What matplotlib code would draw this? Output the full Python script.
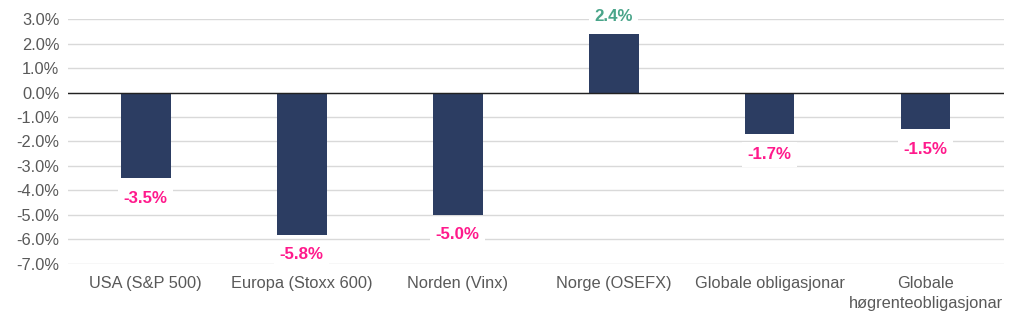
import matplotlib.pyplot as plt
from matplotlib.ticker import FuncFormatter, MultipleLocator
import numpy as np

plt.rcParams["font.family"] = ["Liberation Sans", "DejaVu Sans"]

categories = ["USA (S&P 500)", "Europa (Stoxx 600)", "Norden (Vinx)", "Norge (OSEFX)",
              "Globale obligasjonar", "Globale\nhøgrenteobligasjonar"]
returns = [-3.5, -5.8, -5.0, 2.4, -1.7, -1.5]

BAR = "#2c3d62"
NEG = "#ff1a8c"
POS = "#4aa58a"
GRID = "#d9d9d9"
TXT = "#595959"

fig = plt.figure(figsize=(10.24, 3.23), dpi=100)
ax = fig.add_axes([0.066, 0.183, 0.914, 0.758])

x = np.arange(len(categories))
bars = ax.bar(x, returns, width=0.32, color=BAR, zorder=3)

ax.set_xlim(-0.5, len(categories) - 0.5)
ax.set_ylim(-7.0, 3.0)
ax.yaxis.set_major_locator(MultipleLocator(1.0))
ax.yaxis.set_major_formatter(FuncFormatter(lambda v, p: f"{v:.1f}%"))
ax.grid(axis="y", color=GRID, lw=1.0, zorder=0)
ax.axhline(0, color="#222222", lw=1.0, zorder=4)
for sp in ax.spines.values():
    sp.set_visible(False)
ax.tick_params(axis="both", length=0, colors=TXT, labelsize=11.8)
ax.tick_params(axis="y", pad=6)
ax.tick_params(axis="x", pad=9)
ax.set_xticks(x)
ax.set_xticklabels(categories, linespacing=1.35)

for xi, v in zip(x, returns):
    col = POS if v >= 0 else NEG
    off = 7 if v >= 0 else -9
    ax.annotate(f"{v:.1f}%", (xi, v), xytext=(0, off), textcoords="offset points",
                ha="center", va="bottom" if v >= 0 else "top", color=col,
                fontsize=12.2, fontweight="bold", zorder=5,
                bbox=dict(boxstyle="square,pad=0.3", fc="white", ec="none"))

fig.savefig("out.png", dpi=100)
